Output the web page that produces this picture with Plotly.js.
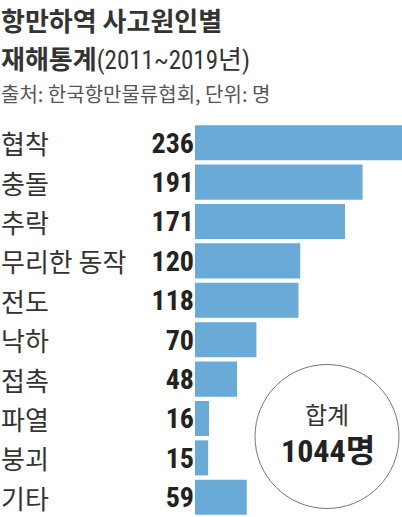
<!DOCTYPE html>
<html>
<head>
<meta charset="utf-8">
<script src="https://cdn.plot.ly/plotly-3.0.1.min.js"></script>
<style>
  body { margin: 0; background: #fff; }
  #chart { width: 402px; height: 517px; }
  #chart .ytick text { font-stretch: condensed; }
</style>
</head>
<body>
<div id="chart"></div>
<script>
//data
const causes = ["협착", "충돌", "추락", "무리한 동작", "전도", "낙하", "접촉", "파열", "붕괴", "기타"];
const victims = [236, 191, 171, 120, 118, 70, 48, 16, 15, 59];
const valueLabels = victims.map(String);
const total = victims.reduce((a, b) => a + b, 0);

//layout numbers (px)
const W = 402, H = 517;
const marginL = 195, marginT = 123;
const plotW = W - marginL, plotH = H - marginT;
const px = (x) => (x - marginL) / plotW;
const py = (y) => (H - y) / plotH;

const korean = "Noto Sans CJK KR, sans-serif";
const narrow = "Roboto, Noto Sans CJK KR, sans-serif";
const cond = "font-family:Roboto;font-stretch:condensed";

const bars = {
  type: "bar",
  orientation: "h",
  y: causes,
  x: victims,
  marker: { color: "#6aaad6", line: { width: 0 } },
  hoverinfo: "none",
};

const annotations = [
  {
    text: "<b>항만하역 사고원인별</b>",
    x: px(0), y: py(20),
    font: { family: korean, size: 26, color: "#333" },
  },
  {
    text: "<b>재해통계</b><span style=\"" + cond + ";font-size:25px\">(2011~2019</span>년<span style=\"" + cond + ";font-size:25px\">)</span>",
    x: px(0), y: py(57),
    font: { family: korean, size: 26, color: "#333" },
  },
  {
    text: "출처: 한국항만물류협회, 단위: 명",
    x: px(0), y: py(93),
    font: { family: korean, size: 20, color: "#555" },
  },
  {
    text: "합계",
    x: px(327), y: py(413), xanchor: "center",
    font: { family: korean, size: 24, color: "#333" },
  },
  {
    text: "<b><span style=\"" + cond + "\">" + total + "</span>명</b>",
    x: px(328), y: py(451), xanchor: "center",
    font: { family: narrow, size: 32, color: "#222" },
  },
];

causes.forEach((c) => {
  annotations.push({
    text: c,
    xref: "paper", yref: "y",
    x: px(0), y: c,
    font: { family: korean, size: 26, color: "#333" },
  });
});

annotations.forEach((a) => {
  if (!a.xref) a.xref = "paper";
  if (!a.yref) a.yref = "paper";
  if (!a.xanchor) a.xanchor = "left";
  a.yanchor = "middle";
  a.showarrow = false;
  a.borderpad = 0;
});

const layout = {
  width: W,
  height: H,
  margin: { l: marginL, r: 0, t: marginT, b: 0, pad: 0 },
  paper_bgcolor: "#fff",
  plot_bgcolor: "#fff",
  showlegend: false,
  bargap: 0.11,
  xaxis: {
    visible: false,
    range: [0, Math.max(...victims)],
    fixedrange: true,
  },
  yaxis: {
    type: "category",
    autorange: "reversed",
    tickvals: causes,
    ticktext: valueLabels,
    tickfont: { family: narrow, size: 28, color: "#222", weight: "bold" },
    ticks: "",
    showgrid: false,
    zeroline: false,
    showline: false,
    ticklabelstandoff: 0,
    fixedrange: true,
  },
  shapes: [
    {
      type: "circle",
      xref: "paper", yref: "paper",
      xsizemode: "pixel", ysizemode: "pixel",
      xanchor: px(327), yanchor: py(436.5),
      x0: -72, x1: 72, y0: -72, y1: 72,
      line: { color: "#777", width: 1 },
      fillcolor: "rgba(0,0,0,0)",
    },
  ],
  annotations: annotations,
};

Plotly.newPlot("chart", [bars], layout, { displayModeBar: false, staticPlot: true });
</script>
</body>
</html>
